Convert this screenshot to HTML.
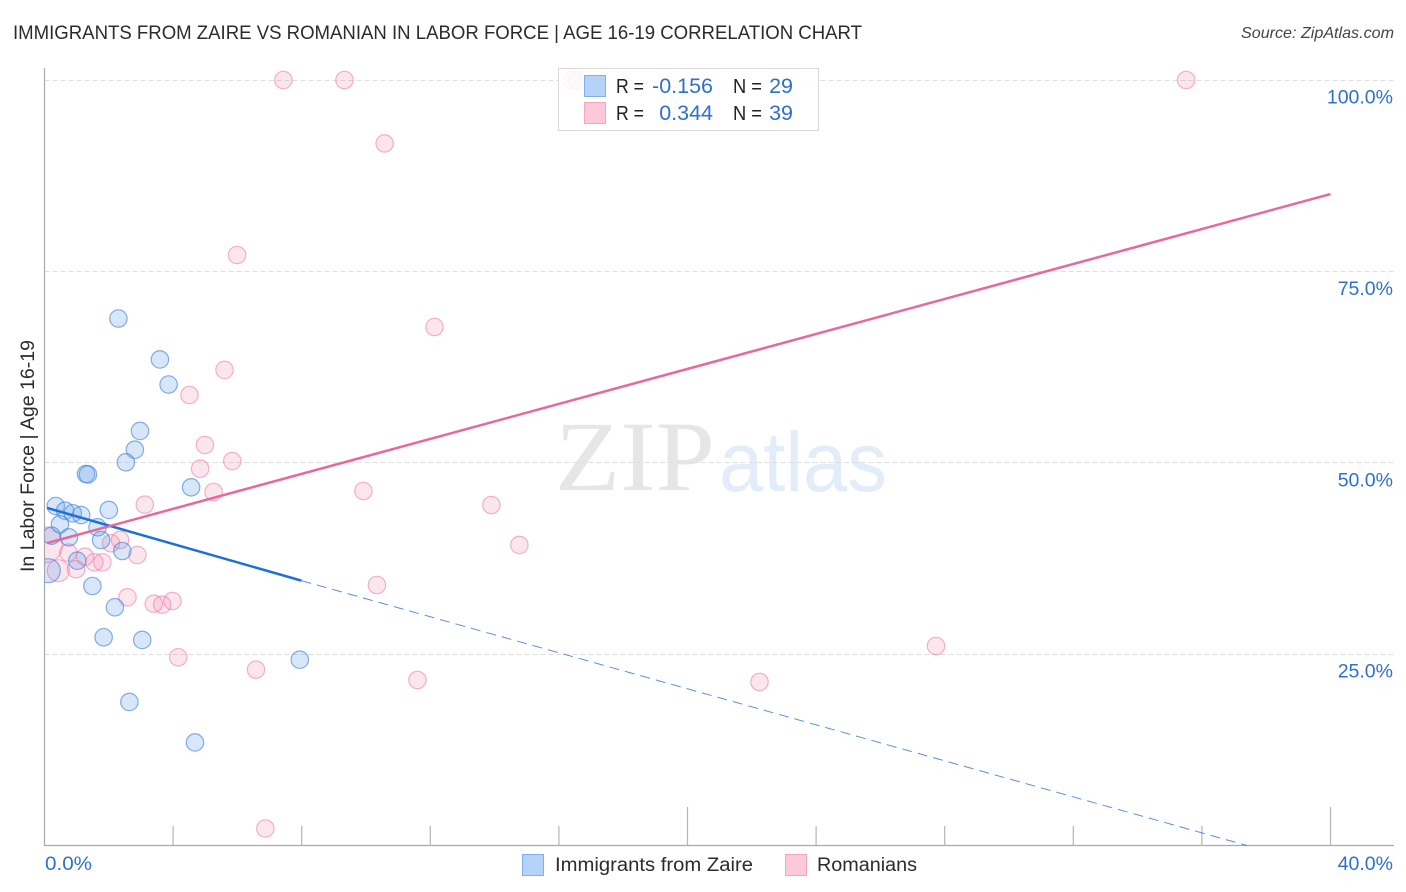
<!DOCTYPE html>
<html lang="en">
<head>
<meta charset="utf-8">
<title>Immigrants from Zaire vs Romanian in Labor Force | Age 16-19 Correlation Chart</title>
<style>
html,body{margin:0;padding:0;background:#fff;width:1406px;height:892px;overflow:hidden}
svg{display:block}
text{font-family:"Liberation Sans",sans-serif}
</style>
</head>
<body>
<svg id="chart" xmlns="http://www.w3.org/2000/svg" width="1406" height="892" viewBox="0 0 1406 892">
  <defs>
    <clipPath id="plot-clip"><rect x="44.5" y="60" width="1350" height="786"/></clipPath>
  </defs>
  <text x="13" y="39" font-size="19" fill="#2b2b2b" textLength="849" lengthAdjust="spacingAndGlyphs">IMMIGRANTS FROM ZAIRE VS ROMANIAN IN LABOR FORCE | AGE 16-19 CORRELATION CHART</text>
  <text x="1241" y="38" font-size="16" font-style="italic" fill="#444" textLength="153" lengthAdjust="spacingAndGlyphs">Source: ZipAtlas.com</text>
  <g>
    <text x="555" y="490" font-size="100" fill="#e6e6e6" textLength="160" lengthAdjust="spacingAndGlyphs" style="font-family:'Liberation Serif',serif">ZIP</text>
    <text x="719" y="491" font-size="84" fill="#e3ecf9" textLength="168" lengthAdjust="spacingAndGlyphs">atlas</text>
  </g>
  <g id="grid"></g>
  <g id="axes"></g>
  <g id="points" clip-path="url(#plot-clip)"></g>
  <g id="trends"></g>
  <g>
    <rect x="558.5" y="68.5" width="260" height="62" fill="#fff" fill-opacity="0.86" stroke="#d9d9d9" stroke-width="1"/>
    <rect x="584.5" y="75.5" width="21" height="21" fill="#b5d2f8" stroke="#7fb0ea"/>
    <rect x="584.5" y="102.5" width="21" height="21" fill="#fcc8da" stroke="#f3a6c0"/>
    <text x="616" y="93" font-size="20" fill="#222" textLength="28" lengthAdjust="spacingAndGlyphs">R =</text>
    <text x="713" y="93" font-size="21.5" fill="#2f6fd0" text-anchor="end">-0.156</text>
    <text x="733" y="93" font-size="20" fill="#222" textLength="29" lengthAdjust="spacingAndGlyphs">N =</text>
    <text x="793" y="93" font-size="21.5" fill="#2f6fd0" text-anchor="end">29</text>
    <text x="616" y="120" font-size="20" fill="#222" textLength="28" lengthAdjust="spacingAndGlyphs">R =</text>
    <text x="713" y="120" font-size="21.5" fill="#2f6fd0" text-anchor="end">0.344</text>
    <text x="733" y="120" font-size="20" fill="#222" textLength="29" lengthAdjust="spacingAndGlyphs">N =</text>
    <text x="793" y="120" font-size="21.5" fill="#2f6fd0" text-anchor="end">39</text>
  </g>
  <text transform="translate(34,456) rotate(-90)" font-size="19" fill="#2b2b2b" text-anchor="middle" textLength="232" lengthAdjust="spacingAndGlyphs">In Labor Force | Age 16-19</text>
  <g>
    <g>
      <rect x="522.5" y="854.5" width="21" height="21" fill="#b5d2f8" stroke="#7fb0ea"/>
      <text x="555" y="871" font-size="19" fill="#2b2b2b" textLength="198" lengthAdjust="spacingAndGlyphs">Immigrants from Zaire</text>
    </g>
    <g>
      <rect x="785.5" y="854.5" width="21" height="21" fill="#fcc8da" stroke="#f3a6c0"/>
      <text x="817" y="871" font-size="19" fill="#2b2b2b" textLength="100" lengthAdjust="spacingAndGlyphs">Romanians</text>
    </g>
  </g>
</svg>
<script>
const xTicks = [0, 4, 8, 12, 16, 20, 24, 28, 32, 36, 40];
const xMajorTicks = [20, 40];
const xTickLabels = ["0.0%", "40.0%"];
const yTicks = [25, 50, 75, 100];
const yTickLabels = ["25.0%", "50.0%", "75.0%", "100.0%"];

const zaireX = [2.30, 3.59, 3.86, 2.97, 2.81, 2.53, 1.29, 1.35, 4.56, 0.35, 0.64, 0.88, 1.14, 2.00, 0.48, 1.65, 0.22, 0.76, 1.76, 2.42, 1.02, 0.12, 1.49, 2.19, 1.84, 3.04, 7.94, 2.64, 4.68];
const zaireY = [68.84, 63.49, 60.22, 54.15, 51.70, 50.06, 48.53, 48.47, 46.79, 44.35, 43.74, 43.40, 43.17, 43.83, 41.96, 41.57, 40.47, 40.26, 39.91, 38.47, 37.20, 35.90, 33.90, 31.12, 27.20, 26.85, 24.27, 18.75, 13.46];
const zaireWeight = [1, 1, 1, 1, 1, 1, 1, 1, 1, 1, 1, 1, 1, 1, 1, 1, 1, 1, 1, 1, 1, 1.9, 1, 1, 1, 1, 1, 1, 1];

const romanianX = [4.99, 5.84, 4.84, 5.26, 3.12, 0.00, 0.43, 0.74, 1.26, 1.55, 1.80, 0.98, 2.07, 2.35, 2.89, 2.58, 3.40, 3.66, 3.98, 4.16, 6.58, 6.87, 11.60, 22.24, 27.73, 14.77, 13.90, 9.92, 10.34, 12.13, 5.60, 4.51, 5.99, 10.58, 7.43, 9.33, 35.51, 16.41, 16.56];
const romanianY = [52.32, 50.23, 49.22, 46.18, 44.52, 39.26, 35.90, 38.25, 37.73, 37.00, 37.00, 36.08, 39.48, 39.91, 37.95, 32.42, 31.59, 31.46, 31.94, 24.59, 22.97, 2.22, 21.62, 21.36, 26.06, 39.26, 44.48, 46.31, 34.03, 67.73, 62.12, 58.85, 77.14, 91.71, 100, 100, 100, 100, 100];
const romanianWeight = [1, 1, 1, 1, 1, 4.3, 1.6, 1, 1, 1, 1, 1, 1, 1, 1, 1, 1, 1, 1, 1, 1, 1, 1, 1, 1, 1, 1, 1, 1, 1, 1, 1, 1, 1, 1, 1, 1, 1, 1];

const zaireTrendX = [0.08, 7.99];
const zaireTrendY = [44.1, 34.6];
const zaireProjectedX = [7.99, 37.4];
const zaireProjectedY = [34.6, 0];
const romanianTrendX = [0.08, 40];
const romanianTrendY = [39.5, 85.1];

const NS = "http://www.w3.org/2000/svg";
const xScale = function (v) { return 44.5 + v * 32.15; };
const yScale = function (v) { return 845.5 - v * 7.655; };
const radius = function (w) { return 8.7 * Math.sqrt(w); };

function make(tag, attrs, parent) {
  const el = document.createElementNS(NS, tag);
  Object.keys(attrs).forEach(function (k) { el.setAttribute(k, attrs[k]); });
  parent.appendChild(el);
  return el;
}

const grid = document.getElementById("grid");
const axes = document.getElementById("axes");
const points = document.getElementById("points");
const trends = document.getElementById("trends");

yTicks.forEach(function (t, i) {
  const gridY = Math.floor(yScale(t)) + 0.5;
  const line = make("line", { x1: 44.5, x2: 1394, y1: gridY, y2: gridY, stroke: "#dedede", "stroke-width": 1, "stroke-dasharray": "5 3" }, grid);
  
  
  const label = make("text", { x: 1393, y: yScale(t) + 23.5, "font-size": 19.5, fill: "#2f6fd0", "text-anchor": "end" }, axes);
  
  
  label.textContent = yTickLabels[i];
});

const yAxisLine = make("line", { x1: 44.5, x2: 44.5, y1: 68, y2: 846, stroke: "#aaa", "stroke-width": 1.2 }, axes);


const xAxisLine = make("line", { x1: 44, x2: 1394, y1: 845.5, y2: 845.5, stroke: "#aaa", "stroke-width": 1.2 }, axes);



xTicks.forEach(function (t) {
  if (t === 0) return;
  const top = xMajorTicks.indexOf(t) >= 0 ? 807 : 826;
  const tick = make("line", { x1: xScale(t), x2: xScale(t), y1: top, y2: 845.5, stroke: "#b5b5b5", "stroke-width": 1.2 }, axes);
  
  
});

const xLabelLeft = make("text", { x: 45, y: 870, "font-size": 19.5, fill: "#2f6fd0", textLength: 47, lengthAdjust: "spacingAndGlyphs" }, axes);


xLabelLeft.textContent = xTickLabels[0];
const xLabelRight = make("text", { x: 1393, y: 870, "font-size": 19.5, fill: "#2f6fd0", "text-anchor": "end" }, axes);


xLabelRight.textContent = xTickLabels[1];

romanianX.forEach(function (v, i) {
  const dot = make("circle", { cx: xScale(v), cy: yScale(romanianY[i]), r: radius(romanianWeight[i]), fill: "#f283a8", "fill-opacity": 0.2, stroke: "#ee7fa6", "stroke-opacity": 0.6, "stroke-width": 1.2 }, points);
  
  
});
zaireX.forEach(function (v, i) {
  const dot = make("circle", { cx: xScale(v), cy: yScale(zaireY[i]), r: radius(zaireWeight[i]), fill: "#5f9de8", "fill-opacity": 0.25, stroke: "#3f80d8", "stroke-opacity": 0.62, "stroke-width": 1.2 }, points);
  
  
});

const zaireProjected = make("line", { x1: xScale(zaireProjectedX[0]), y1: yScale(zaireProjectedY[0]), x2: xScale(zaireProjectedX[1]), y2: yScale(zaireProjectedY[1]), stroke: "#3a7fd8", "stroke-width": 1, "stroke-dasharray": "10 6", "stroke-opacity": 0.85 }, trends);


const zaireTrend = make("line", { x1: xScale(zaireTrendX[0]), y1: yScale(zaireTrendY[0]), x2: xScale(zaireTrendX[1]), y2: yScale(zaireTrendY[1]), stroke: "#1f6fd8", "stroke-width": 2.5 }, trends);


const romanianTrend = make("line", { x1: xScale(romanianTrendX[0]), y1: yScale(romanianTrendY[0]), x2: xScale(romanianTrendX[1]), y2: yScale(romanianTrendY[1]), stroke: "#e8689a", "stroke-width": 2.5 }, trends);


</script>
</body>
</html>
